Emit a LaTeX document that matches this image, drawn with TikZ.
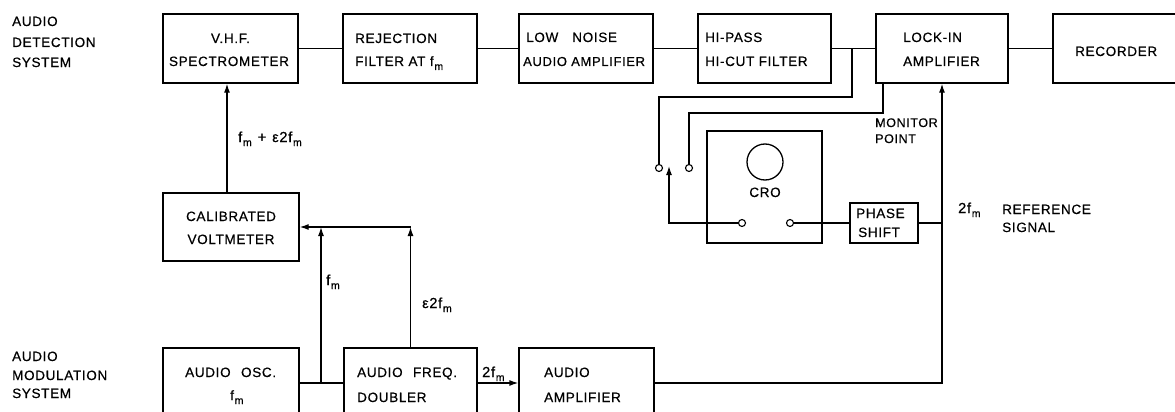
\documentclass[tikz,border=0pt]{standalone}
\usepackage{fontspec}
\setmainfont{Liberation Sans}[LetterSpace=5,FakeBold=0.5]
\usetikzlibrary{arrows.meta}
\newcommand\fsub{f\kern0.8pt\raisebox{-4pt}{\fontsize{10.5}{10.5}\selectfont m}}
\tikzset{
  blk/.style={draw, line width=1.3pt, rectangle, inner sep=0},
  term/.style={circle, draw, line width=1.1pt, fill=white, minimum size=7pt, inner sep=0},
  wire/.style={line width=1.3pt},
  arr/.style={line width=1.3pt, -{Latex[length=9pt,width=6pt]}},
  txt/.style={anchor=base west, inner sep=0, font=\fontsize{13.5}{15}\selectfont},
  ctxt/.style={anchor=base, inner sep=0, font=\fontsize{13.5}{15}\selectfont},
  lbl/.style={anchor=base west, inner sep=0, font=\fontsize{14.5}{15}\selectfont}
}
\begin{document}
\begin{tikzpicture}[x=1pt,y=-1pt]
\useasboundingbox (0,0) rectangle (1175,412);
\clip (0,0) rectangle (1175,412);
\fill[white] (0,0) rectangle (1175,412);

% side labels
\node[txt] (l1) at (12,26) {AUDIO};
\node[txt] (l2) at (12,47) {DETECTION};
\node[txt] (l3) at (12,67) {SYSTEM};
\node[txt] (l4) at (12,361) {AUDIO};
\node[txt] (l5) at (12,380) {MODULATION};
\node[txt] (l6) at (12,398) {SYSTEM};

% top row boxes
\node[blk, minimum width=135pt, minimum height=69pt] (vhf) at (230.5,48.5) {};
\node[blk, minimum width=134pt, minimum height=69pt] (rej) at (410,48.5) {};
\node[blk, minimum width=134pt, minimum height=69pt] (low) at (586,48.5) {};
\node[blk, minimum width=133pt, minimum height=69pt] (hip) at (764.5,48.5) {};
\node[blk, minimum width=132pt, minimum height=69pt] (lock) at (942,48.5) {};
\node[blk, minimum width=147pt, minimum height=69pt] (rec) at (1126.5,48.5) {};

\node[ctxt] (t1a) at (230.5,43) {V.H.F.};
\node[ctxt] (t1b) at (229,66) {SPECTROMETER};
\node[txt] (t2a) at (355,43) {REJECTION};
\node[txt] (t2b) at (355,66) {FILTER AT \fsub};
\node[txt] (t3a) at (526,42) {LOW\hspace{14pt}NOISE};
\node[txt, font=\fontsize{13}{15}\selectfont] (t3b) at (523,66) {AUDIO AMPLIFIER};
\node[txt] (t4a) at (705,42) {HI-PASS};
\node[txt] (t4b) at (705,66) {HI-CUT FILTER};
\node[txt] (t5a) at (903,42) {LOCK-IN};
\node[txt] (t5b) at (903,66) {AMPLIFIER};
\node[txt] (t6) at (1075,56) {RECORDER};

% voltmeter
\node[blk, minimum width=136pt, minimum height=68pt] (volt) at (231,227) {};
\node[ctxt] (t7a) at (231,221) {CALIBRATED};
\node[ctxt] (t7b) at (231,244) {VOLTMETER};

% bottom row
\node[blk, minimum width=136pt, minimum height=70pt] (osc) at (231,383) {};
\node[blk, minimum width=133pt, minimum height=70pt] (dbl) at (410.5,383) {};
\node[blk, minimum width=135pt, minimum height=70pt] (amp) at (586.5,383) {};
\node[txt] (t8a) at (185,377) {AUDIO\hspace{6pt} OSC.};
\node[txt] (t8b) at (230,400) {\fsub};
\node[txt] (t9a) at (357,377) {AUDIO\hspace{6pt} FREQ.};
\node[txt] (t9b) at (357,402) {DOUBLER};
\node[txt] (t10a) at (544,377) {AUDIO};
\node[txt] (t10b) at (544,402) {AMPLIFIER};

% CRO
\node[blk, minimum width=115pt, minimum height=112pt] (cro) at (764.5,187) {};
\node[circle, draw, line width=1.3pt, minimum size=36pt, inner sep=0] (scr) at (765,162) {};
\node[ctxt] (t11) at (765,197) {CRO};
\node[term] (s3) at (742,223) {};
\node[term] (s4) at (790,223) {};
\node[term] (s1) at (659,168) {};
\node[term] (s2) at (689,168) {};

% phase shift
\node[blk, minimum width=68pt, minimum height=40pt] (ph) at (884,223) {};
\node[txt] (t12a) at (856,218) {PHASE};
\node[txt] (t12b) at (858,237) {SHIFT};

% labels
\node[lbl] (lb1) at (238,142) {\fsub\hspace{6pt}+\hspace{6pt}ε2\fsub};
\node[lbl] (lb2) at (326,285) {\fsub};
\node[lbl] (lb3) at (422,308) {ε2\fsub};
\node[lbl] (lb4) at (482,377) {2\fsub};
\node[txt, font=\fontsize{12.5}{15}\selectfont] (lb5) at (875,127) {MONITOR};
\node[txt, font=\fontsize{12.5}{15}\selectfont] (lb6) at (875,143) {POINT};
\node[lbl] (lb7) at (958,213) {2\fsub};
\node[txt] (lb8) at (1002,214) {REFERENCE};
\node[txt] (lb9) at (1002,232) {SIGNAL};

% top chain
\draw[wire] (vhf.east) -- (rej.west);
\draw[wire] (rej.east) -- (low.west);
\draw[wire] (low.east) -- (hip.west);
\draw[wire] (hip.east) -- (lock.west);
\draw[wire] (lock.east) -- (rec.west);

% monitor wires
\coordinate (b1) at (852,48.5);
\coordinate (b2) at (883,83);
\draw[wire] (b1) -- (852,97) -| (s1.north);
\draw[wire] (b2) -- (883,113) -| (s2.north);
\coordinate (sw) at (669,166);
\draw[arr] (s3.west) -| (sw);

% phase / reference
\draw[wire] (s4.east) -- (ph.west);
\coordinate (rj) at (lock.south |- ph.east);
\draw[wire] (ph.east) -- (rj);
\draw[arr] (amp.east) -| (lock.south);

% modulation
\draw[arr] (volt.north -| 227,0) -- (vhf.south -| 227,0);
\draw[wire] (osc.east) -- (dbl.west);
\coordinate (j1) at (321,383);
\coordinate (j2) at (321,227);
\coordinate (j3) at (dbl.north |- volt.east);
\draw[arr] (j1) -- (j2);
\draw[arr] (dbl.north) -- (j3);
\draw[arr] (j3) -- (volt.east);
\draw[arr] (dbl.east) -- (amp.west);
\end{tikzpicture}
\end{document}
